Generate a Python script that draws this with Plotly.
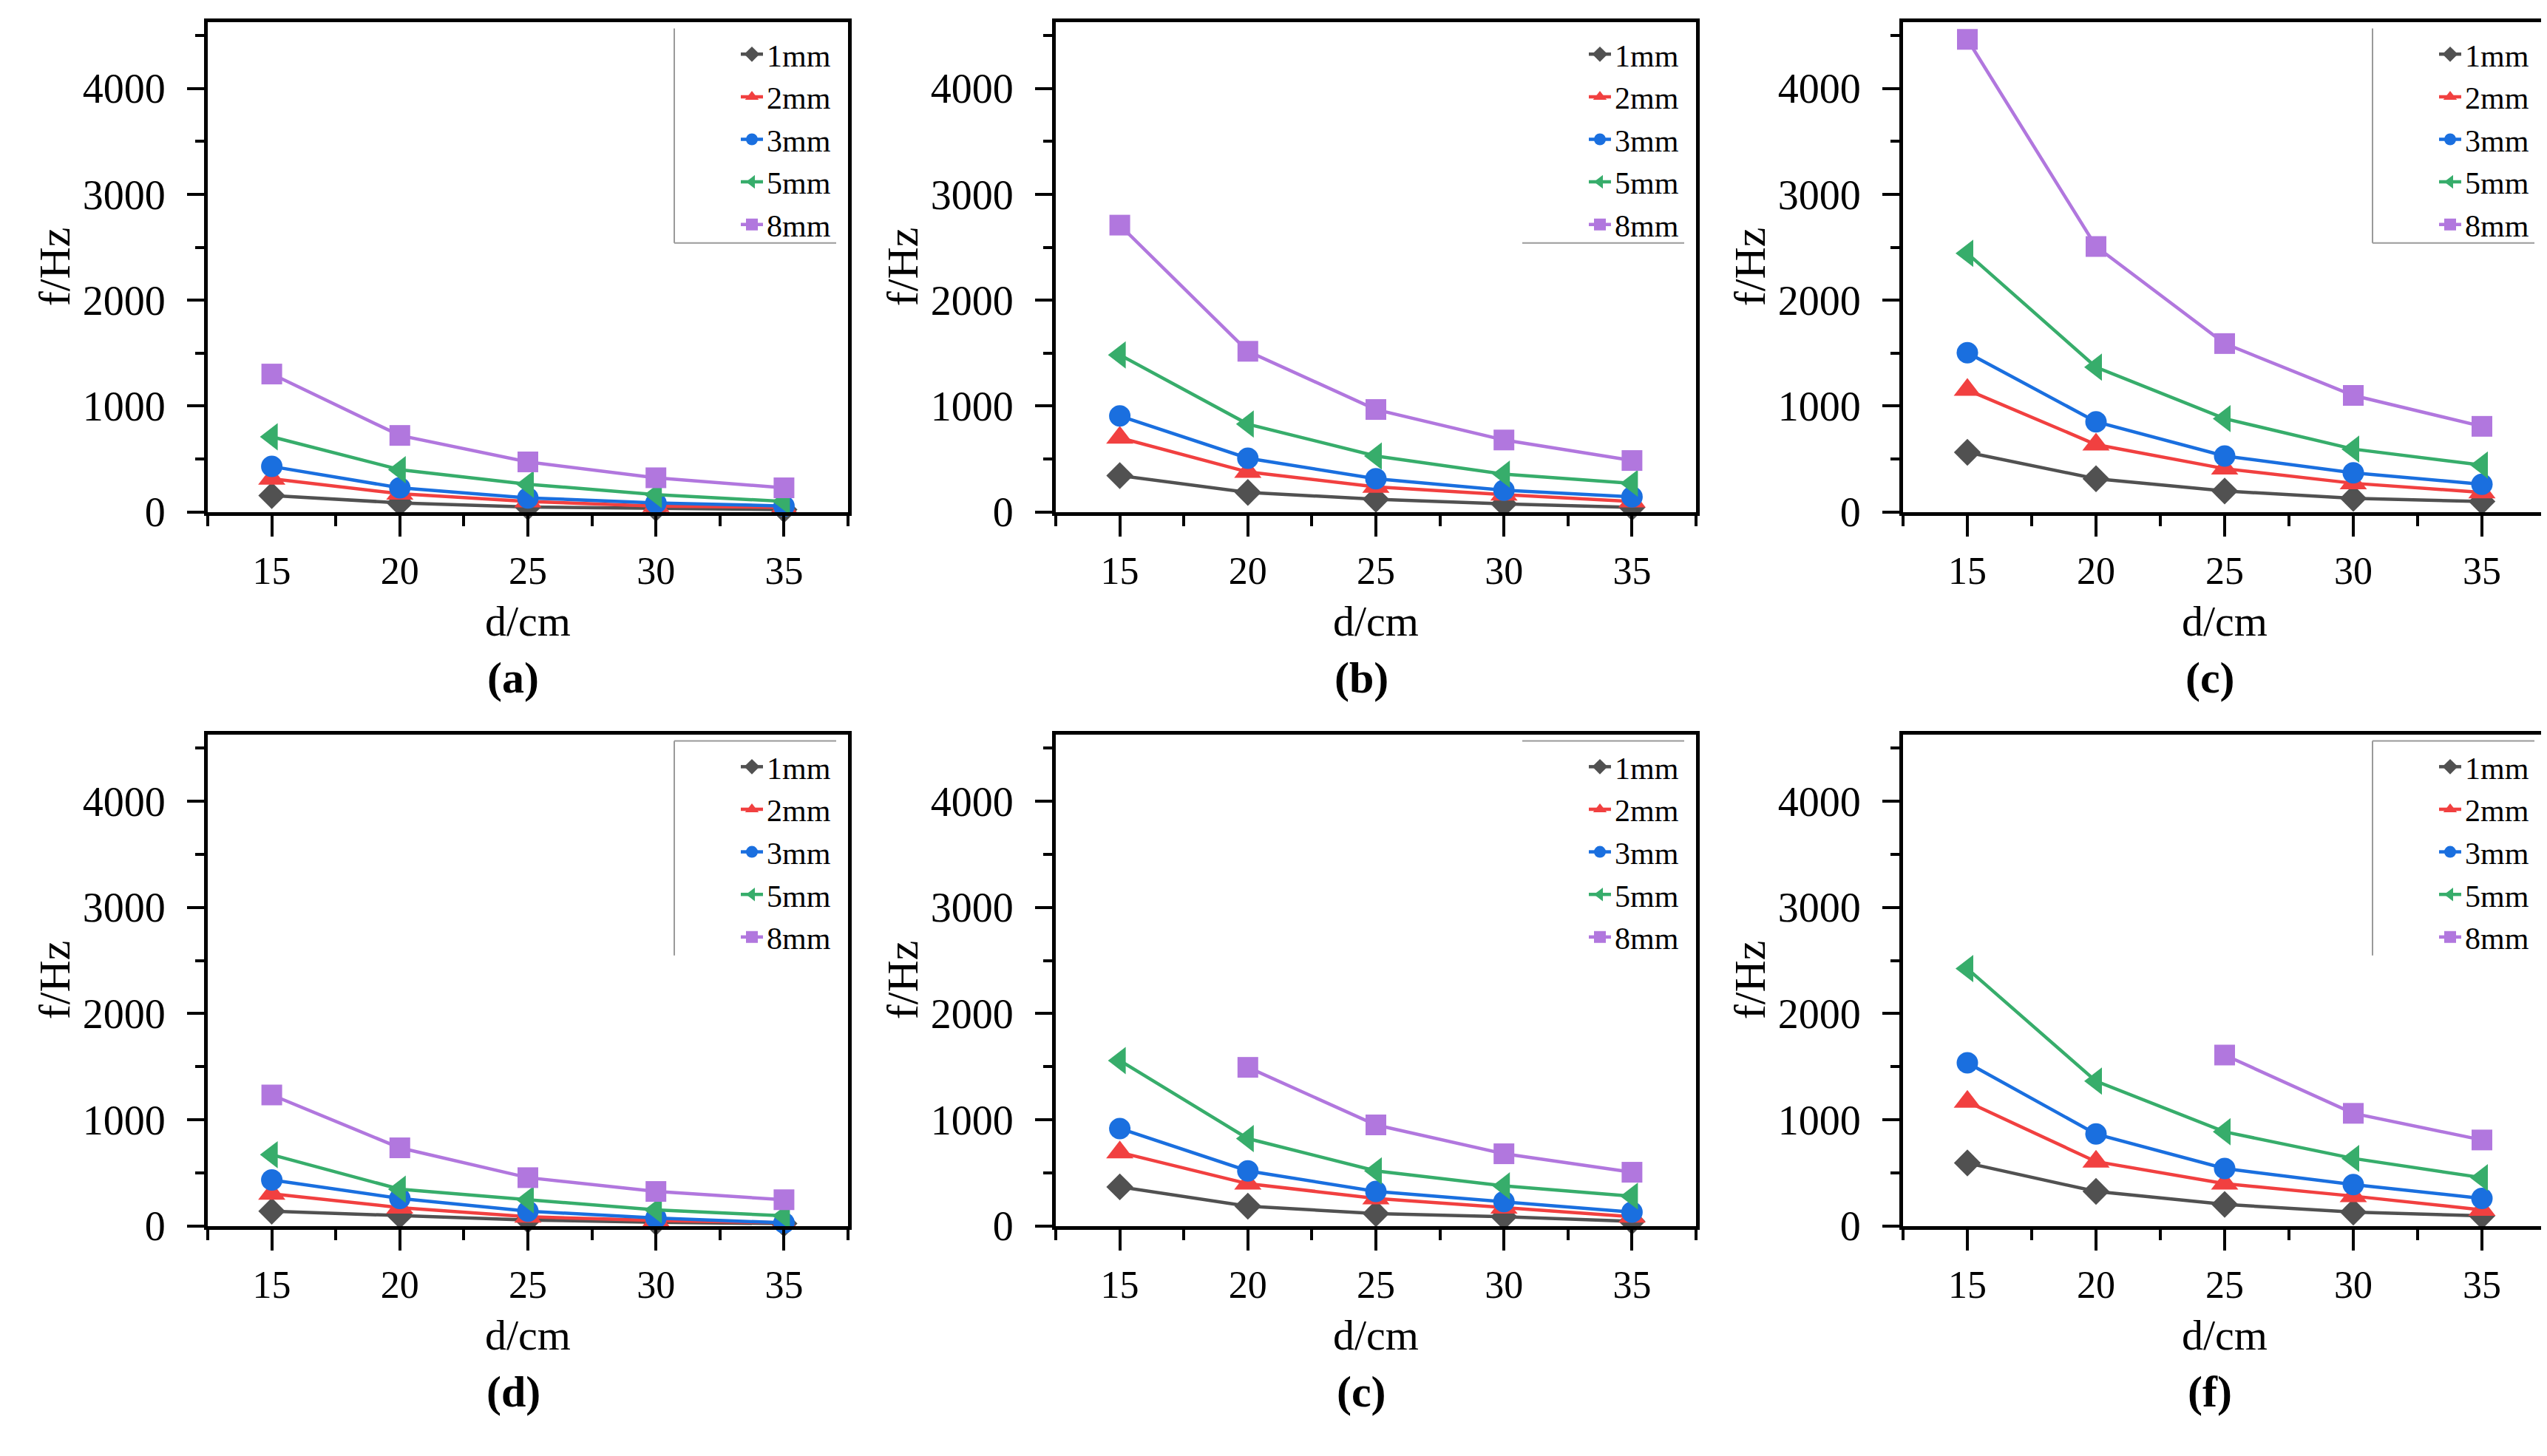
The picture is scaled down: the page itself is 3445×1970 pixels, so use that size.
import plotly.graph_objects as go

W, H = 3445, 1970

d_cm = [15, 20, 25, 30, 35]
series_names = ["1mm", "2mm", "3mm", "5mm", "8mm"]
panel_labels = ["(a)", "(b)", "(c)", "(d)", "(c)", "(f)"]
y_ticks = [0, 1000, 2000, 3000, 4000]

# f/Hz, one list per series (1mm, 2mm, 3mm, 5mm, 8mm)
f_a = [[155, 86, 47, 34, 22],
       [314, 172, 99, 56, 43],
       [430, 228, 133, 86, 56],
       [710, 400, 262, 163, 100],
       [1303, 723, 473, 323, 228]]
f_b = [[344, 185, 120, 77, 43],
       [701, 378, 237, 163, 99],
       [908, 508, 314, 206, 142],
       [1484, 830, 529, 357, 271],
       [2710, 1518, 968, 680, 486]]
f_c = [[563, 314, 198, 129, 99],
       [1153, 637, 409, 271, 185],
       [1505, 852, 529, 370, 262],
       [2443, 1368, 882, 594, 443],
       [4465, 2508, 1591, 1101, 809]]
f_d = [[139, 100, 56, 35, 22],
       [303, 173, 87, 52, 30],
       [433, 260, 139, 74, 30],
       [671, 346, 247, 152, 95],
       [1234, 736, 455, 325, 247]]
f_e = [[368, 186, 117, 87, 43],
       [693, 398, 260, 173, 87],
       [918, 519, 325, 229, 130],
       [1558, 823, 519, 377, 281],
       [None, 1494, 952, 680, 506]]
f_f = [[593, 325, 203, 130, 95],
       [1169, 606, 398, 281, 152],
       [1537, 866, 541, 390, 260],
       [2424, 1364, 887, 636, 455],
       [None, None, 1610, 1061, 810]]
panels = [f_a, f_b, f_c, f_d, f_e, f_f]

colors = ["#515151", "#F14040", "#1A6FDF", "#37AD6B", "#B177DE"]
symbols = ["diamond", "triangle-up", "circle", "triangle-left", "square"]
sizes = [28, 32, 29, 32, 28]

# plot areas in pixels (left, right) and (top, bottom)
col_px = [(273, 1139), (1420, 2286), (2566, 3436)]
row_px = [(22, 696), (1002, 1678)]
# which sides of the legend frame show
legend_edges = [("l", "b"), ("b",), ("l", "b"), ("l", "t"), ("t",), ("l", "t")]

FONT = "Liberation Serif"


def px(x):
    return x / W


def py(y):
    return 1 - y / H


fig = go.Figure()
layout = dict(
    width=W, height=H,
    margin=dict(l=0, r=0, t=0, b=0),
    paper_bgcolor="white", plot_bgcolor="white",
    font=dict(family=FONT, color="black"),
)
annotations = []
shapes = []

for i, data in enumerate(panels):
    r, c = divmod(i, 3)
    n = "" if i == 0 else str(i + 1)
    x0, x1 = col_px[c]
    y0, y1 = row_px[r]
    leg = "legend" + n

    for k, name in enumerate(series_names):
        fig.add_trace(go.Scatter(
            x=d_cm, y=data[k], name=name, mode="lines+markers",
            line=dict(color=colors[k], width=4.5),
            marker=dict(symbol=symbols[k], size=sizes[k], color=colors[k]),
            xaxis="x" + n, yaxis="y" + n, legend=leg, cliponaxis=False,
        ))

    layout["xaxis" + n] = dict(
        domain=[px(x0), px(x1)], anchor="y" + n, range=[12.5, 37.5],
        tickvals=d_cm, ticks="outside", ticklen=28, tickwidth=4,
        tickcolor="black", showline=True, linewidth=5, linecolor="black",
        mirror=True, showgrid=False, zeroline=False, ticklabelstandoff=2,
        tickfont=dict(family=FONT, size=52, color="black"),
        minor=dict(tick0=12.5, dtick=2.5, ticks="outside", ticklen=14,
                   tickwidth=4, tickcolor="black", showgrid=False),
    )
    layout["yaxis" + n] = dict(
        domain=[py(y1), py(y0)], anchor="x" + n, range=[0, 4630],
        tickvals=y_ticks, ticks="outside", ticklen=23, tickwidth=4,
        tickcolor="black", showline=True, linewidth=5, linecolor="black",
        mirror=True, showgrid=False, zeroline=False, ticklabelstandoff=18,
        tickfont=dict(family=FONT, size=56, color="black"),
        minor=dict(dtick=500, ticks="outside", ticklen=12, tickwidth=4,
                   tickcolor="black", showgrid=False),
    )
    layout[leg] = dict(
        x=px(x1 - 18), xanchor="right", y=py(y0 + 10), yanchor="top",
        bgcolor="rgba(0,0,0,0)", borderwidth=0, tracegroupgap=0,
        font=dict(family=FONT, size=42, color="black"),
    )

    # legend frame pieces
    lx0, lx1 = x1 - 235, x1 - 16
    ly0, ly1 = y0 + 9, y0 + 304
    edge = dict(type="line", xref="paper", yref="paper",
                line=dict(color="#9a9a9a", width=2))
    if "l" in legend_edges[i]:
        shapes.append(dict(edge, x0=px(lx0), x1=px(lx0), y0=py(ly0), y1=py(ly1)))
    if "b" in legend_edges[i]:
        shapes.append(dict(edge, x0=px(lx0), x1=px(lx1), y0=py(ly1), y1=py(ly1)))
    if "t" in legend_edges[i]:
        shapes.append(dict(edge, x0=px(lx0), x1=px(lx1), y0=py(ly0), y1=py(ly0)))

    cx = (x0 + x1) / 2
    annotations.append(dict(
        text="f/Hz", textangle=-90, x=px(x0 - 207), y=py((y0 + y1) / 2),
        xref="paper", yref="paper", showarrow=False,
        xanchor="center", yanchor="middle",
        font=dict(family=FONT, size=60, color="black"),
    ))
    annotations.append(dict(
        text="d/cm", x=px(cx), y=py(y1 + 150), xref="paper", yref="paper",
        showarrow=False, xanchor="center", yanchor="middle",
        font=dict(family=FONT, size=58, color="black"),
    ))
    annotations.append(dict(
        text="<b>" + panel_labels[i] + "</b>", x=px(cx - 20), y=py(y1 + 228),
        xref="paper", yref="paper", showarrow=False,
        xanchor="center", yanchor="middle",
        font=dict(family=FONT, size=60, color="black"),
    ))

layout["annotations"] = annotations
layout["shapes"] = shapes
fig.update_layout(**layout)

fig.write_html("out.html")
